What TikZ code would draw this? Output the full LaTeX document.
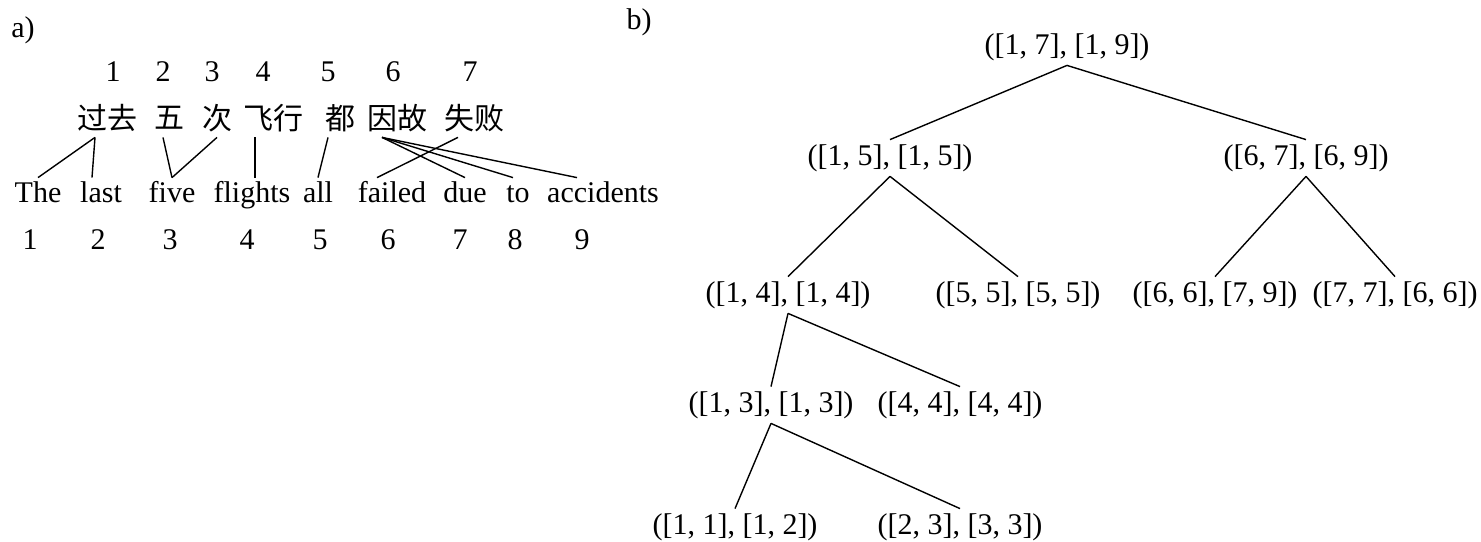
\documentclass[tikz,border=0pt]{standalone}
\usepackage{fontspec}
\setmainfont{Liberation Serif}
\newfontfamily\cjk{Noto Sans CJK SC}
\usetikzlibrary{calc}

\begin{document}
\begin{tikzpicture}[x=0.5pt, y=-0.5pt, font=\fontsize{15}{18}\selectfont,
    zh/.style={font=\fontsize{15}{18}\selectfont\cjk, inner sep=0pt, minimum height=19pt},
    en/.style={anchor=base, inner sep=0pt, text height=12pt, text depth=0pt},
    span/.style={inner sep=0pt, minimum height=18pt},
    link/.style={line width=0.7pt}]
    % --- ROWS ---
    \pgfmathsetmacro{\zhNumY}{72}    % numbers above the Chinese words
    \pgfmathsetmacro{\zhY}{118}      % Chinese words
    \pgfmathsetmacro{\enY}{202}      % baseline of the English words
    \pgfmathsetmacro{\enNumY}{240}   % numbers below the English words

    \useasboundingbox (0,0) rectangle (1481,541);

    % --- a) ALIGNMENT ---
    \node (labA) at (23,30) {a)};

    \foreach \i/\x in {1/113,2/163,3/212,4/263,5/328,6/393,7/470}
        \node (zn\i) at (\x,\zhNumY) {\i};

    \node[zh] (guoqu)   at (107,\zhY) {过去};
    \node[zh] (wu)      at (169,\zhY) {五};
    \node[zh] (ci)      at (217,\zhY) {次};
    \node[zh] (feixing) at (273,\zhY) {飞行};
    \node[zh] (dou)     at (340,\zhY) {都};
    \node[zh] (yingu)   at (397,\zhY) {因故};
    \node[zh] (shibai)  at (474,\zhY) {失败};

    \node[en] (the)       at (38,\enY)  {The};
    \node[en] (last)      at (101,\enY) {last};
    \node[en] (five)      at (172,\enY) {five};
    \node[en] (flights)   at (252,\enY) {flights};
    \node[en] (all)       at (318,\enY) {all};
    \node[en] (failed)    at (392,\enY) {failed};
    \node[en] (due)       at (465,\enY) {due};
    \node[en] (to)        at (518,\enY) {to};
    \node[en] (accidents) at (603,\enY) {accidents};

    \foreach \i/\x in {1/30,2/98,3/170,4/247,5/320,6/388,7/460,8/515,9/582}
        \node (en\i) at (\x,\enNumY) {\i};

    % word links
    \draw[link] ($(guoqu.south)+(-12,0)$) -- (the.north);
    \draw[link] ($(guoqu.south)+(-12,0)$) -- ($(last.north)+(-9,0)$);
    \draw[link] ($(wu.south)+(-6,0)$) -- (five.north);
    \draw[link] (ci.south) -- (five.north);
    \draw[link] ($(feixing.south)+(-18,0)$) -- ($(flights.north)+(3,0)$);
    \draw[link] ($(dou.south)+(-12,0)$) -- (all.north);
    \draw[link] ($(yingu.south)+(-15,0)$) -- (due.north);
    \draw[link] ($(yingu.south)+(-15,0)$) -- ($(to.north)+(-5,0)$);
    \draw[link] ($(yingu.south)+(-15,0)$) -- ($(accidents.north)+(-26,0)$);
    \draw[link] ($(shibai.south)+(-16,0)$) -- ($(failed.north)+(-15,0)$);

    % --- b) SPAN TREE ---
    \node (labB) at (639,22) {b)};

    \node[span] (root) at (1067,47)  {([1, 7], [1, 9])};
    \node[span] (s15)  at (890,158)  {([1, 5], [1, 5])};
    \node[span] (s67)  at (1306,158) {([6, 7], [6, 9])};
    \node[span] (s14)  at (788,295)  {([1, 4], [1, 4])};
    \node[span] (s55)  at (1018,295) {([5, 5], [5, 5])};
    \node[span] (s66)  at (1215,295) {([6, 6], [7, 9])};
    \node[span] (s77)  at (1395,295) {([7, 7], [6, 6])};
    \node[span] (s13)  at (771,405)  {([1, 3], [1, 3])};
    \node[span] (s44)  at (960,405)  {([4, 4], [4, 4])};
    \node[span] (s11)  at (735,527)  {([1, 1], [1, 2])};
    \node[span] (s23)  at (960,527)  {([2, 3], [3, 3])};

    \draw[link] (root.south) -- (s15.north);
    \draw[link] (root.south) -- (s67.north);
    \draw[link] (s15.south) -- (s14.north);
    \draw[link] (s15.south) -- (s55.north);
    \draw[link] (s67.south) -- (s66.north);
    \draw[link] (s67.south) -- (s77.north);
    \draw[link] (s14.south) -- (s13.north);
    \draw[link] (s14.south) -- (s44.north);
    \draw[link] (s13.south) -- (s11.north);
    \draw[link] (s13.south) -- (s23.north);
\end{tikzpicture}
\end{document}
